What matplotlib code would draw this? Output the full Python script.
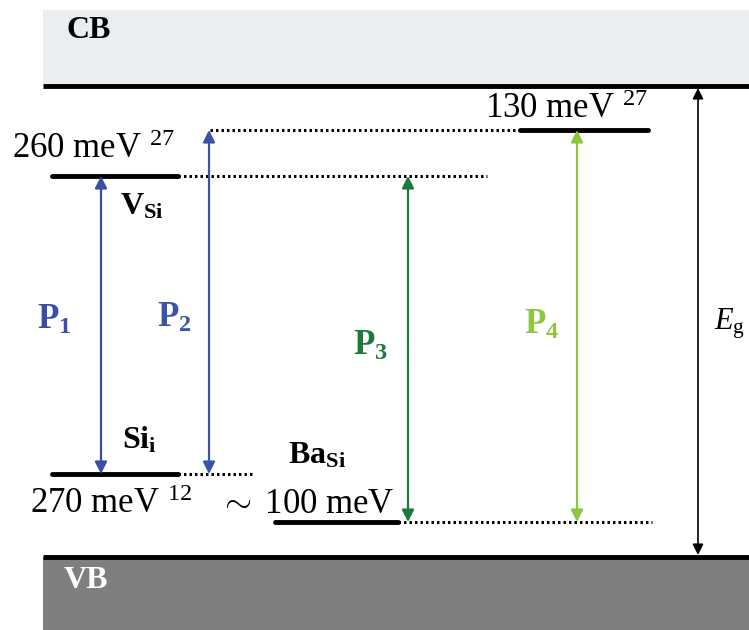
import matplotlib.pyplot as plt
from matplotlib.patches import Rectangle

plt.rcParams['font.family'] = ['Liberation Serif', 'DejaVu Serif']
plt.rcParams['mathtext.fontset'] = 'custom'
plt.rcParams['mathtext.rm'] = 'Liberation Serif'
plt.rcParams['mathtext.it'] = 'Liberation Serif:italic'
plt.rcParams['mathtext.bf'] = 'Liberation Serif:bold'

# band edges (diagram units, y grows downward)
cb_y = 86
vb_y = 557
band_x = [43, 749]

# defect levels
level_names = ['130meV', 'V_Si', 'Si_i', 'Ba_Si']
level_y = [130, 176, 474, 522]
level_x0 = [520, 52, 52, 275]
level_x1 = [648, 178, 178, 398]
# dotted extensions of the levels
dot_x0 = [210, 178, 178, 398]
dot_x1 = [520, 487, 252, 652]

# transitions P1..P4 and band gap
trans_idx = ['1', '2', '3', '4']
trans_x = [101, 209, 408, 577]
trans_top = [176, 130, 176, 130]
trans_bot = [474, 474, 522, 522]
trans_colors = ['#3a4ea3', '#3a55a8', '#1b7a3c', '#8dc63f']
label_x = [54, 174, 370, 542]
label_y = [320, 318, 346, 325]

# level text labels (baseline positions)
text_str = ['130 meV $^{27}$', '260 meV $^{27}$', '270 meV $^{12}$', '$\\sim$ 100 meV']
text_x = [485, 12, 30, 219]
text_y = [118, 158, 513, 513]

fig = plt.figure(figsize=(7.49, 6.30), dpi=100)
ax = fig.add_axes([0, 0, 1, 1])
ax.set_xlim(0, 749)
ax.set_ylim(630, 0)
ax.axis('off')

# CB / VB
ax.add_patch(Rectangle((band_x[0], 10), band_x[1] - band_x[0], cb_y - 10,
                       facecolor='#eaeef1', edgecolor='none'))
ax.add_patch(Rectangle((band_x[0], vb_y), band_x[1] - band_x[0], 630 - vb_y,
                       facecolor='#7f7f7f', edgecolor='none'))
ax.plot(band_x, [cb_y, cb_y], color='black', lw=3.5, solid_capstyle='butt')
ax.plot(band_x, [vb_y, vb_y], color='black', lw=3.5, solid_capstyle='butt')
ax.text(66, 31, 'CB', fontsize=23, fontweight='bold', va='center', ha='left')
ax.text(64, 581, 'VB', fontsize=23, fontweight='bold', va='center', ha='left', color='white')

# levels
for y, a, b, c, d in zip(level_y, level_x0, level_x1, dot_x0, dot_x1):
    ax.plot([a, b], [y, y], color='black', lw=3.5, solid_capstyle='round')
    ax.plot([c, d], [y, y], color='black', lw=2.2, linestyle=(0, (0.8, 1.0)))

# transitions
for x, t, b, col, i, lx, ly in zip(trans_x, trans_top, trans_bot, trans_colors,
                                   trans_idx, label_x, label_y):
    ax.annotate('', xy=(x, t), xytext=(x, b),
                arrowprops=dict(arrowstyle='<|-|>', color=col, lw=1.6,
                                mutation_scale=18, shrinkA=0, shrinkB=0))
    ax.text(lx, ly, '$\\mathbf{P}_{\\mathbf{' + i + '}}$',
            color=col, fontsize=25, ha='center', va='center')

# band gap arrow
ax.annotate('', xy=(698, cb_y + 2), xytext=(698, vb_y - 2),
            arrowprops=dict(arrowstyle='<|-|>', color='black', lw=1.2,
                            mutation_scale=16, shrinkA=0, shrinkB=0))
ax.text(714, 324, '$E_{\\mathrm{g}}$', fontsize=22, ha='left', va='center')

# level labels
for s, x, y in zip(text_str, text_x, text_y):
    ax.text(x, y, s, fontsize=25, ha='left', va='baseline')
ax.text(120, 207, '$\\mathbf{V}_{\\mathbf{Si}}$', fontsize=23, ha='left', va='center')
ax.text(122, 440, '$\\mathbf{Si}_{\\mathbf{i}}$', fontsize=23, ha='left', va='center')
ax.text(288, 456, '$\\mathbf{Ba}_{\\mathbf{Si}}$', fontsize=23, ha='left', va='center')

fig.savefig('out.png', dpi=100)
